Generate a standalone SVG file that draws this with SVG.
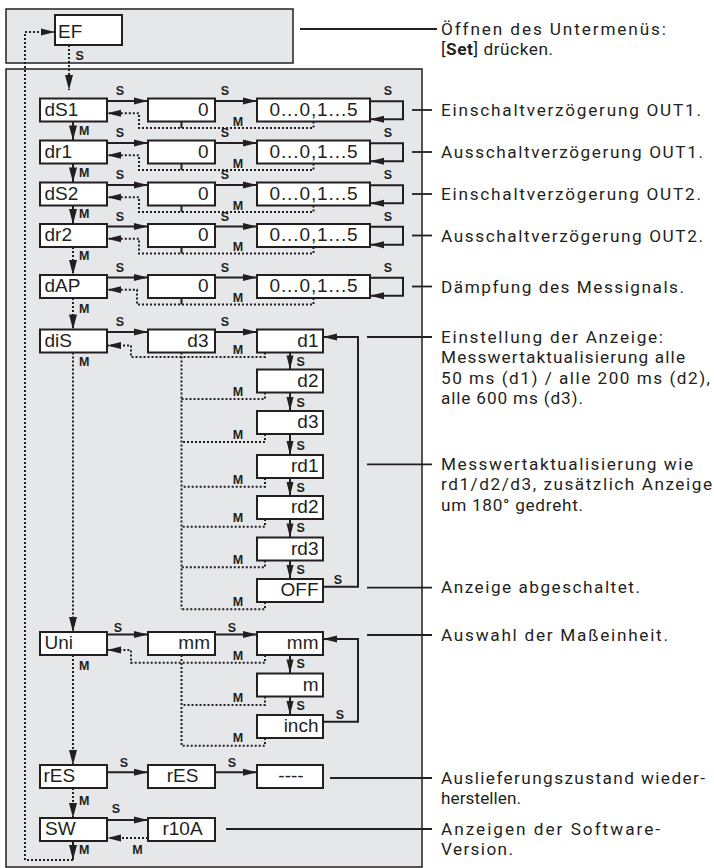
<svg xmlns="http://www.w3.org/2000/svg" width="714" height="868" viewBox="0 0 714 868">
<style>
.panel{fill:#e6e7e8;stroke:#231f20;stroke-width:1.5}
.box{fill:#fff;stroke:#231f20;stroke-width:2}
.bt{font-family:"Liberation Sans",Arial,sans-serif;font-size:19px;fill:#231f20}
.lbl{font-family:"Liberation Sans",Arial,sans-serif;font-size:12.5px;font-weight:bold;fill:#231f20}
.ann{font-family:Roboto,"Open Sans",sans-serif;font-size:17.2px;fill:#231f20}
.ln{stroke:#231f20;stroke-width:2;fill:none}
.dot{stroke:#231f20;stroke-width:2;fill:none;stroke-dasharray:2 2}
.al{stroke:#231f20;stroke-width:1.8;fill:none}
.e{text-anchor:end}
.m{text-anchor:middle}
</style>
<defs>
<marker id="ah" markerUnits="userSpaceOnUse" markerWidth="14" markerHeight="7" refX="14" refY="3.5" orient="auto" overflow="visible"><path d="M0,0 L14,3.5 L0,7 z" fill="#231f20"/></marker>
<marker id="av" markerUnits="userSpaceOnUse" markerWidth="15" markerHeight="8" refX="15" refY="4" orient="auto" overflow="visible"><path d="M0,0 L15,4 L0,8 z" fill="#231f20"/></marker>
</defs>

<rect class="panel" x="6" y="9" width="287" height="54"/>
<rect class="panel" x="6" y="69" width="416" height="798"/>

<g id="connectors">
<path class="dot" d="M73,860 H25 V32 H55" marker-end="url(#ah)"/>
<path class="dot" d="M69,45 V90" marker-end="url(#av)"/>
<path class="ln" d="M73,121.5 V140.5" marker-end="url(#av)"/>
<path class="ln" d="M73,163.5 V182.5" marker-end="url(#av)"/>
<path class="ln" d="M73,205.5 V224" marker-end="url(#av)"/>
<path class="dot" d="M73,247 V275" marker-end="url(#av)"/>
<path class="dot" d="M73,298 V329.5" marker-end="url(#av)"/>
<path class="dot" d="M73,352.5 V632" marker-end="url(#av)"/>
<path class="dot" d="M73,655 V765" marker-end="url(#av)"/>
<path class="dot" d="M73,788 V818" marker-end="url(#av)"/>
<path class="ln" d="M73,841 V860" marker-end="url(#av)"/>

<path class="ln" d="M107,101 H148" marker-end="url(#ah)"/>
<path class="ln" d="M215,101 H257" marker-end="url(#ah)"/>
<path class="ln" d="M370,101.2 H403 V119.2 H370" marker-end="url(#ah)"/>
<path class="dot" d="M313.5,121.5 V128 H139 V113.2 H107" marker-end="url(#ah)"/>
<path class="ln" d="M181.5,121.5 V128"/>

<path class="ln" d="M107,143 H148" marker-end="url(#ah)"/>
<path class="ln" d="M215,143 H257" marker-end="url(#ah)"/>
<path class="ln" d="M370,143.2 H403 V161.2 H370" marker-end="url(#ah)"/>
<path class="dot" d="M313.5,163.5 V170 H139 V155.2 H107" marker-end="url(#ah)"/>
<path class="ln" d="M181.5,163.5 V170"/>

<path class="ln" d="M107,185 H148" marker-end="url(#ah)"/>
<path class="ln" d="M215,185 H257" marker-end="url(#ah)"/>
<path class="ln" d="M370,185.2 H403 V203.2 H370" marker-end="url(#ah)"/>
<path class="dot" d="M313.5,205.5 V212 H139 V197.2 H107" marker-end="url(#ah)"/>
<path class="ln" d="M181.5,205.5 V212"/>

<path class="ln" d="M107,226.5 H148" marker-end="url(#ah)"/>
<path class="ln" d="M215,226.5 H257" marker-end="url(#ah)"/>
<path class="ln" d="M370,226.7 H403 V244.7 H370" marker-end="url(#ah)"/>
<path class="dot" d="M313.5,247 V253.5 H139 V238.7 H107" marker-end="url(#ah)"/>
<path class="ln" d="M181.5,247 V253.5"/>

<path class="ln" d="M107,277.5 H148" marker-end="url(#ah)"/>
<path class="ln" d="M215,277.5 H257" marker-end="url(#ah)"/>
<path class="ln" d="M370,277.7 H403 V295.7 H370" marker-end="url(#ah)"/>
<path class="dot" d="M313.5,298 V304.5 H137 V289.7 H107" marker-end="url(#ah)"/>
<path class="ln" d="M181.5,298 V304.5"/>

<path class="ln" d="M107,332 H148" marker-end="url(#ah)"/>
<path class="ln" d="M215,332 H257" marker-end="url(#ah)"/>
<path class="dot" d="M265,352.5 V357 H131 V345.5 H107" marker-end="url(#ah)"/>
<path class="dot" d="M181.5,352.5 V609.3"/>
<path class="ln" d="M290,352.5 V369.5" marker-end="url(#ah)"/>
<path class="dot" d="M265,392.5 V399 H181.5"/>
<path class="ln" d="M290,392.5 V411" marker-end="url(#ah)"/>
<path class="dot" d="M265,434 V442 H181.5"/>
<path class="ln" d="M290,434 V455" marker-end="url(#ah)"/>
<path class="dot" d="M265,478 V486.7 H181.5"/>
<path class="ln" d="M290,478 V496" marker-end="url(#ah)"/>
<path class="dot" d="M265,519 V526.7 H181.5"/>
<path class="ln" d="M290,519 V537.5" marker-end="url(#ah)"/>
<path class="dot" d="M265,560.5 V567.3 H181.5"/>
<path class="ln" d="M290,560.5 V579" marker-end="url(#ah)"/>
<path class="dot" d="M265,602 V609.3 H181.5"/>
<path class="ln" d="M323,586.7 H358 V337 H323" marker-end="url(#ah)"/>

<path class="ln" d="M107,634.5 H148" marker-end="url(#ah)"/>
<path class="ln" d="M215,634.5 H257" marker-end="url(#ah)"/>
<path class="dot" d="M265,655 V662.7 H131 V650 H107" marker-end="url(#ah)"/>
<path class="dot" d="M181.5,655 V745.7"/>
<path class="ln" d="M290,655 V673.5" marker-end="url(#ah)"/>
<path class="dot" d="M265,696.5 V705 H181.5"/>
<path class="ln" d="M290,696.5 V715" marker-end="url(#ah)"/>
<path class="dot" d="M265,738 V745.7 H181.5"/>
<path class="ln" d="M323,721.7 H358 V639 H323" marker-end="url(#ah)"/>

<path class="ln" d="M107,772.3 H148" marker-end="url(#ah)"/>
<path class="ln" d="M215,772.3 H257" marker-end="url(#ah)"/>
<path class="ln" d="M107,820 H148" marker-end="url(#ah)"/>
<path class="dot" d="M148,838 H107" marker-end="url(#ah)"/>

<path class="al" d="M300,29 H437"/>
<path class="al" d="M412,110 H432"/>
<path class="al" d="M412,152 H432"/>
<path class="al" d="M412,194 H432"/>
<path class="al" d="M412,235.5 H432"/>
<path class="al" d="M412,286.5 H432"/>
<path class="al" d="M367,337 H432"/>
<path class="al" d="M367,464.3 H432"/>
<path class="al" d="M367,587.7 H432"/>
<path class="al" d="M367,635 H432"/>
<path class="al" d="M330,778 H432"/>
<path class="al" d="M226,829 H432"/>
</g>

<g id="labels">
<text class="lbl" x="75.5" y="59.5">S</text>
<text class="lbl m" x="120" y="95">S</text><text class="lbl m" x="225" y="95">S</text><text class="lbl m" x="388" y="95">S</text><text class="lbl m" x="238" y="125.5">M</text>
<text class="lbl m" x="120" y="137">S</text><text class="lbl m" x="225" y="137">S</text><text class="lbl m" x="388" y="137">S</text><text class="lbl m" x="238" y="167.5">M</text>
<text class="lbl m" x="120" y="179">S</text><text class="lbl m" x="225" y="179">S</text><text class="lbl m" x="388" y="179">S</text><text class="lbl m" x="238" y="209.5">M</text>
<text class="lbl m" x="120" y="220.5">S</text><text class="lbl m" x="225" y="220.5">S</text><text class="lbl m" x="388" y="220.5">S</text><text class="lbl m" x="238" y="251">M</text>
<text class="lbl m" x="120" y="271.5">S</text><text class="lbl m" x="225" y="271.5">S</text><text class="lbl m" x="388" y="271.5">S</text><text class="lbl m" x="238" y="302">M</text>
<text class="lbl" x="79" y="135">M</text>
<text class="lbl" x="79" y="176.7">M</text>
<text class="lbl" x="79" y="218">M</text>
<text class="lbl" x="79" y="260">M</text>
<text class="lbl" x="79" y="313">M</text>
<text class="lbl" x="79" y="366">M</text>
<text class="lbl" x="79" y="670">M</text>
<text class="lbl" x="79" y="805">M</text>
<text class="lbl" x="79" y="854">M</text>
<text class="lbl m" x="120" y="325.5">S</text><text class="lbl m" x="225" y="325.5">S</text><text class="lbl m" x="238" y="354">M</text>
<text class="lbl" x="296.5" y="366">S</text><text class="lbl m" x="238" y="396">M</text>
<text class="lbl" x="296.5" y="407">S</text><text class="lbl m" x="238" y="439">M</text>
<text class="lbl" x="296.5" y="450">S</text><text class="lbl m" x="238" y="484">M</text>
<text class="lbl" x="296.5" y="492">S</text><text class="lbl m" x="238" y="522">M</text>
<text class="lbl" x="296.5" y="532">S</text><text class="lbl m" x="238" y="564">M</text>
<text class="lbl" x="296.5" y="574">S</text><text class="lbl m" x="238" y="606">M</text>
<text class="lbl m" x="338" y="584">S</text>
<text class="lbl m" x="118" y="631.5">S</text><text class="lbl m" x="232" y="631.5">S</text><text class="lbl m" x="238" y="660">M</text>
<text class="lbl" x="296.5" y="668">S</text><text class="lbl m" x="238" y="702">M</text>
<text class="lbl" x="296.5" y="710">S</text><text class="lbl m" x="238" y="742">M</text>
<text class="lbl m" x="340" y="719">S</text>
<text class="lbl m" x="124" y="767.3">S</text><text class="lbl m" x="232" y="767.3">S</text>
<text class="lbl m" x="116" y="813">S</text>
<text class="lbl m" x="137.5" y="854">M</text>
</g>

<g id="n-EF"><rect class="box" x="55" y="15" width="67" height="30"/><text class="bt" x="58" y="38">EF</text></g>

<g id="n-dS1"><rect class="box" x="40" y="98.5" width="67" height="23"/><text class="bt" x="44.5" y="115.5">dS1</text></g>
<g id="n-dS1-v"><rect class="box" x="148" y="98.5" width="67" height="23"/><text class="bt e" x="208.5" y="115.5">0</text></g>
<g id="n-dS1-r"><rect class="box" x="257" y="98.5" width="113" height="23"/><text class="bt m" x="314" y="115.5" letter-spacing="0.9">0...0,1...5</text></g>

<g id="n-dr1"><rect class="box" x="40" y="140.5" width="67" height="23"/><text class="bt" x="44.5" y="157.5">dr1</text></g>
<g id="n-dr1-v"><rect class="box" x="148" y="140.5" width="67" height="23"/><text class="bt e" x="208.5" y="157.5">0</text></g>
<g id="n-dr1-r"><rect class="box" x="257" y="140.5" width="113" height="23"/><text class="bt m" x="314" y="157.5" letter-spacing="0.9">0...0,1...5</text></g>

<g id="n-dS2"><rect class="box" x="40" y="182.5" width="67" height="23"/><text class="bt" x="44.5" y="199.5">dS2</text></g>
<g id="n-dS2-v"><rect class="box" x="148" y="182.5" width="67" height="23"/><text class="bt e" x="208.5" y="199.5">0</text></g>
<g id="n-dS2-r"><rect class="box" x="257" y="182.5" width="113" height="23"/><text class="bt m" x="314" y="199.5" letter-spacing="0.9">0...0,1...5</text></g>

<g id="n-dr2"><rect class="box" x="40" y="224" width="67" height="23"/><text class="bt" x="44.5" y="241">dr2</text></g>
<g id="n-dr2-v"><rect class="box" x="148" y="224" width="67" height="23"/><text class="bt e" x="208.5" y="241">0</text></g>
<g id="n-dr2-r"><rect class="box" x="257" y="224" width="113" height="23"/><text class="bt m" x="314" y="241" letter-spacing="0.9">0...0,1...5</text></g>

<g id="n-dAP"><rect class="box" x="40" y="275" width="67" height="23"/><text class="bt" x="44.5" y="292">dAP</text></g>
<g id="n-dAP-v"><rect class="box" x="148" y="275" width="67" height="23"/><text class="bt e" x="208.5" y="292">0</text></g>
<g id="n-dAP-r"><rect class="box" x="257" y="275" width="113" height="23"/><text class="bt m" x="314" y="292" letter-spacing="0.9">0...0,1...5</text></g>

<g id="n-diS"><rect class="box" x="40" y="329.5" width="67" height="23"/><text class="bt" x="44.5" y="346.5">diS</text></g>
<g id="n-diS-v"><rect class="box" x="148" y="329.5" width="67" height="23"/><text class="bt e" x="208.5" y="346.5">d3</text></g>
<g id="n-d1"><rect class="box" x="257" y="329.5" width="66" height="23"/><text class="bt e" x="318.5" y="346.5">d1</text></g>
<g id="n-d2"><rect class="box" x="257" y="369.5" width="66" height="23"/><text class="bt e" x="318.5" y="386.5">d2</text></g>
<g id="n-d3"><rect class="box" x="257" y="411" width="66" height="23"/><text class="bt e" x="318.5" y="428">d3</text></g>
<g id="n-rd1"><rect class="box" x="257" y="455" width="66" height="23"/><text class="bt e" x="318.5" y="472">rd1</text></g>
<g id="n-rd2"><rect class="box" x="257" y="496" width="66" height="23"/><text class="bt e" x="318.5" y="513">rd2</text></g>
<g id="n-rd3"><rect class="box" x="257" y="537.5" width="66" height="23"/><text class="bt e" x="318.5" y="554.5">rd3</text></g>
<g id="n-OFF"><rect class="box" x="257" y="579" width="66" height="23"/><text class="bt e" x="318.5" y="596">OFF</text></g>

<g id="n-Uni"><rect class="box" x="40" y="632" width="67" height="23"/><text class="bt" x="44.5" y="649">Uni</text></g>
<g id="n-Uni-v"><rect class="box" x="148" y="632" width="67" height="23"/><text class="bt e" x="210" y="649">mm</text></g>
<g id="n-mm"><rect class="box" x="257" y="632" width="66" height="23"/><text class="bt e" x="318.5" y="649">mm</text></g>
<g id="n-m"><rect class="box" x="257" y="673.5" width="66" height="23"/><text class="bt e" x="318.5" y="690.5">m</text></g>
<g id="n-inch"><rect class="box" x="257" y="715" width="66" height="23"/><text class="bt e" x="318.5" y="732">inch</text></g>

<g id="n-rES"><rect class="box" x="40" y="765" width="67" height="23"/><text class="bt" x="43.5" y="782">rES</text></g>
<g id="n-rES-v"><rect class="box" x="148" y="765" width="67" height="23"/><text class="bt m" x="182.5" y="782">rES</text></g>
<g id="n-rES-r"><rect class="box" x="257" y="765" width="66" height="23"/><text class="bt m" x="291" y="782">----</text></g>

<g id="n-SW"><rect class="box" x="40" y="818" width="67" height="23"/><text class="bt" x="45" y="835">SW</text></g>
<g id="n-r10A"><rect class="box" x="148" y="818" width="67" height="23"/><text class="bt m" x="182.5" y="835">r10A</text></g>

<g id="annotations">
<text class="ann" x="441" y="34.5" textLength="225" lengthAdjust="spacing">Öffnen des Untermenüs:</text>
<text class="ann" x="441" y="55" textLength="112" lengthAdjust="spacing">[<tspan font-weight="bold">Set</tspan>] drücken.</text>
<text class="ann" x="441" y="116" textLength="260" lengthAdjust="spacing">Einschaltverzögerung OUT1.</text>
<text class="ann" x="441" y="158" textLength="262" lengthAdjust="spacing">Ausschaltverzögerung OUT1.</text>
<text class="ann" x="441" y="200" textLength="260" lengthAdjust="spacing">Einschaltverzögerung OUT2.</text>
<text class="ann" x="441" y="241.5" textLength="262" lengthAdjust="spacing">Ausschaltverzögerung OUT2.</text>
<text class="ann" x="441" y="292.5" textLength="243" lengthAdjust="spacing">Dämpfung des Messignals.</text>
<text class="ann" x="441" y="342.5" textLength="222" lengthAdjust="spacing">Einstellung der Anzeige:</text>
<text class="ann" x="441" y="363" textLength="244" lengthAdjust="spacing">Messwertaktualisierung alle</text>
<text class="ann" x="441" y="383.5" textLength="269" lengthAdjust="spacing">50 ms (d1) / alle 200 ms (d2),</text>
<text class="ann" x="441" y="404" textLength="142" lengthAdjust="spacing">alle 600 ms (d3).</text>
<text class="ann" x="441" y="469.5" textLength="252" lengthAdjust="spacing">Messwertaktualisierung wie</text>
<text class="ann" x="441" y="490" textLength="271" lengthAdjust="spacing">rd1/d2/d3, zusätzlich Anzeige</text>
<text class="ann" x="441" y="510.5" textLength="142" lengthAdjust="spacing">um 180° gedreht.</text>
<text class="ann" x="441" y="593" textLength="199" lengthAdjust="spacing">Anzeige abgeschaltet.</text>
<text class="ann" x="441" y="640.5" textLength="227" lengthAdjust="spacing">Auswahl der Maßeinheit.</text>
<text class="ann" x="441" y="783.5" textLength="264" lengthAdjust="spacing">Auslieferungszustand wieder-</text>
<text class="ann" x="441" y="804" textLength="80" lengthAdjust="spacing">herstellen.</text>
<text class="ann" x="441" y="834.5" textLength="219" lengthAdjust="spacing">Anzeigen der Software-</text>
<text class="ann" x="441" y="855" textLength="72" lengthAdjust="spacing">Version.</text>
</g>
</svg>
